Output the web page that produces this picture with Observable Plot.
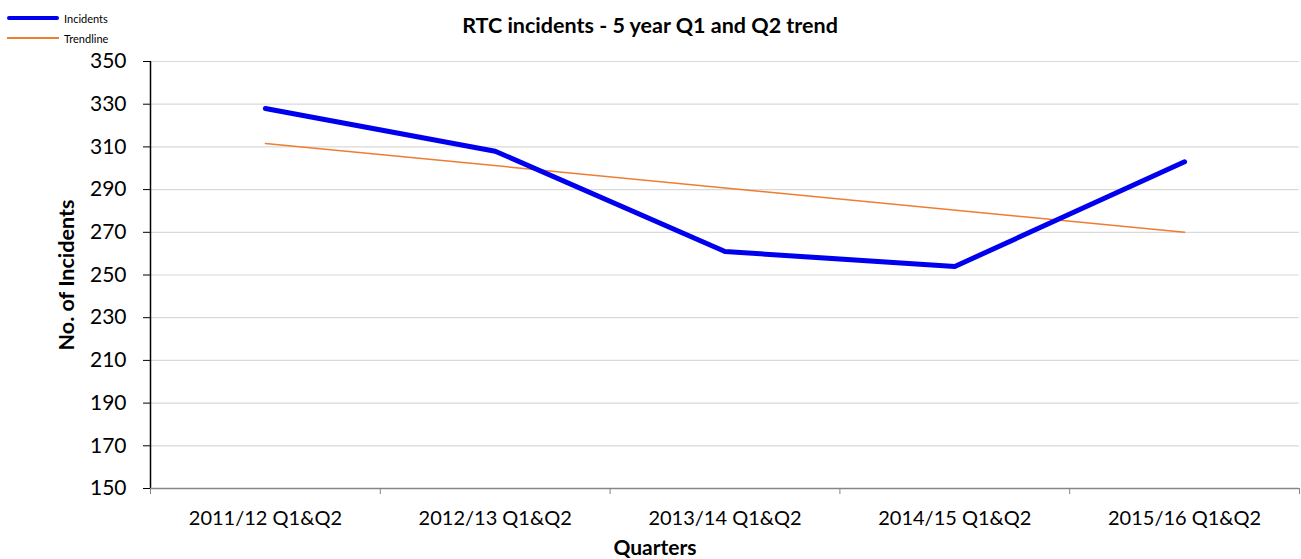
<!DOCTYPE html>
<html>
<head>
<meta charset="utf-8">
<script src="https://cdn.jsdelivr.net/npm/d3@7"></script>
<script src="https://cdn.jsdelivr.net/npm/@observablehq/plot@0.6"></script>
<style>
  html, body { margin: 0; padding: 0; background: #fff; }
  #wrap { position: relative; width: 1301px; height: 559px; font-family: Lato, "Open Sans", sans-serif; }
  #legend { position: absolute; left: 7px; top: 8px; font-size: 11px; color: #000; }
  .li { display: flex; align-items: center; height: 20px; }
  .sw { width: 52px; margin-right: 5px; }
</style>
</head>
<body>
<div id="wrap">
  <div id="chart"></div>
  <div id="legend">
    <div class="li"><div class="sw" style="height:4px;background:#0000ee;border-radius:2px"></div>Incidents</div>
    <div class="li"><div class="sw" style="height:1.5px;background:#ed7d31"></div>Trendline</div>
  </div>
</div>
<script>
const categories = ["2011/12 Q1&Q2", "2012/13 Q1&Q2", "2013/14 Q1&Q2", "2014/15 Q1&Q2", "2015/16 Q1&Q2"];
const incidents = [328, 308, 261, 254, 303];
const yTicks = [150, 170, 190, 210, 230, 250, 270, 290, 310, 330, 350];

const data = categories.map((c, i) => ({pos: i + 1, cat: c, value: incidents[i]}));
const bounds = d3.range(0.5, categories.length + 1, 1);
const centers = d3.range(1, categories.length + 1);

const chart = Plot.plot({
  width: 1301,
  height: 559,
  marginLeft: 150,
  marginRight: 2,
  marginTop: 61,
  marginBottom: 71,
  style: {fontFamily: "Lato, 'Open Sans', sans-serif", background: "#fff"},
  x: {type: "linear", domain: [0.5, categories.length + 0.5]},
  y: {domain: [150, 350]},
  marks: [
    Plot.gridY(yTicks, {stroke: "#d9d9d9", strokeOpacity: 1, strokeWidth: 1.2}),
    Plot.axisY({ticks: yTicks, tickSize: 7, tickPadding: 17, fontSize: 21, stroke: "#000", color: "#000", label: null}),
    Plot.ruleX([0.5], {stroke: "#000", strokeWidth: 1.5}),
    Plot.axisX({ticks: bounds, tickSize: 6, tickFormat: () => "", stroke: "#868686", label: null}),
    Plot.axisX({ticks: centers, tickSize: 0, tickPadding: 22, fontSize: 20, tickFormat: d => categories[d - 1], color: "#000", label: null}),
    Plot.ruleY([150], {stroke: "#868686", strokeWidth: 1.5}),
    Plot.linearRegressionY(data, {x: "pos", y: "value", ci: 0, stroke: "#ed7d31", strokeWidth: 1.5}),
    Plot.line(data, {x: "pos", y: "value", stroke: "#0000ee", strokeWidth: 5, strokeLinecap: "round", strokeLinejoin: "round"}),
    Plot.text(["RTC incidents - 5 year Q1 and Q2 trend"], {frameAnchor: "top", textAnchor: "middle", dx: -75, dy: -44, fontSize: 21.5, fontWeight: "bold", fill: "#000"}),
    Plot.text(["No. of Incidents"], {frameAnchor: "left", textAnchor: "middle", dx: -83, rotate: -90, fontSize: 21.5, fontWeight: "bold", fill: "#000"}),
    Plot.text(["Quarters"], {frameAnchor: "bottom", textAnchor: "middle", dx: -70, dy: 66, fontSize: 21, fontWeight: "bold", fill: "#000"})
  ]
});
document.getElementById("chart").appendChild(chart);
</script>
</body>
</html>
